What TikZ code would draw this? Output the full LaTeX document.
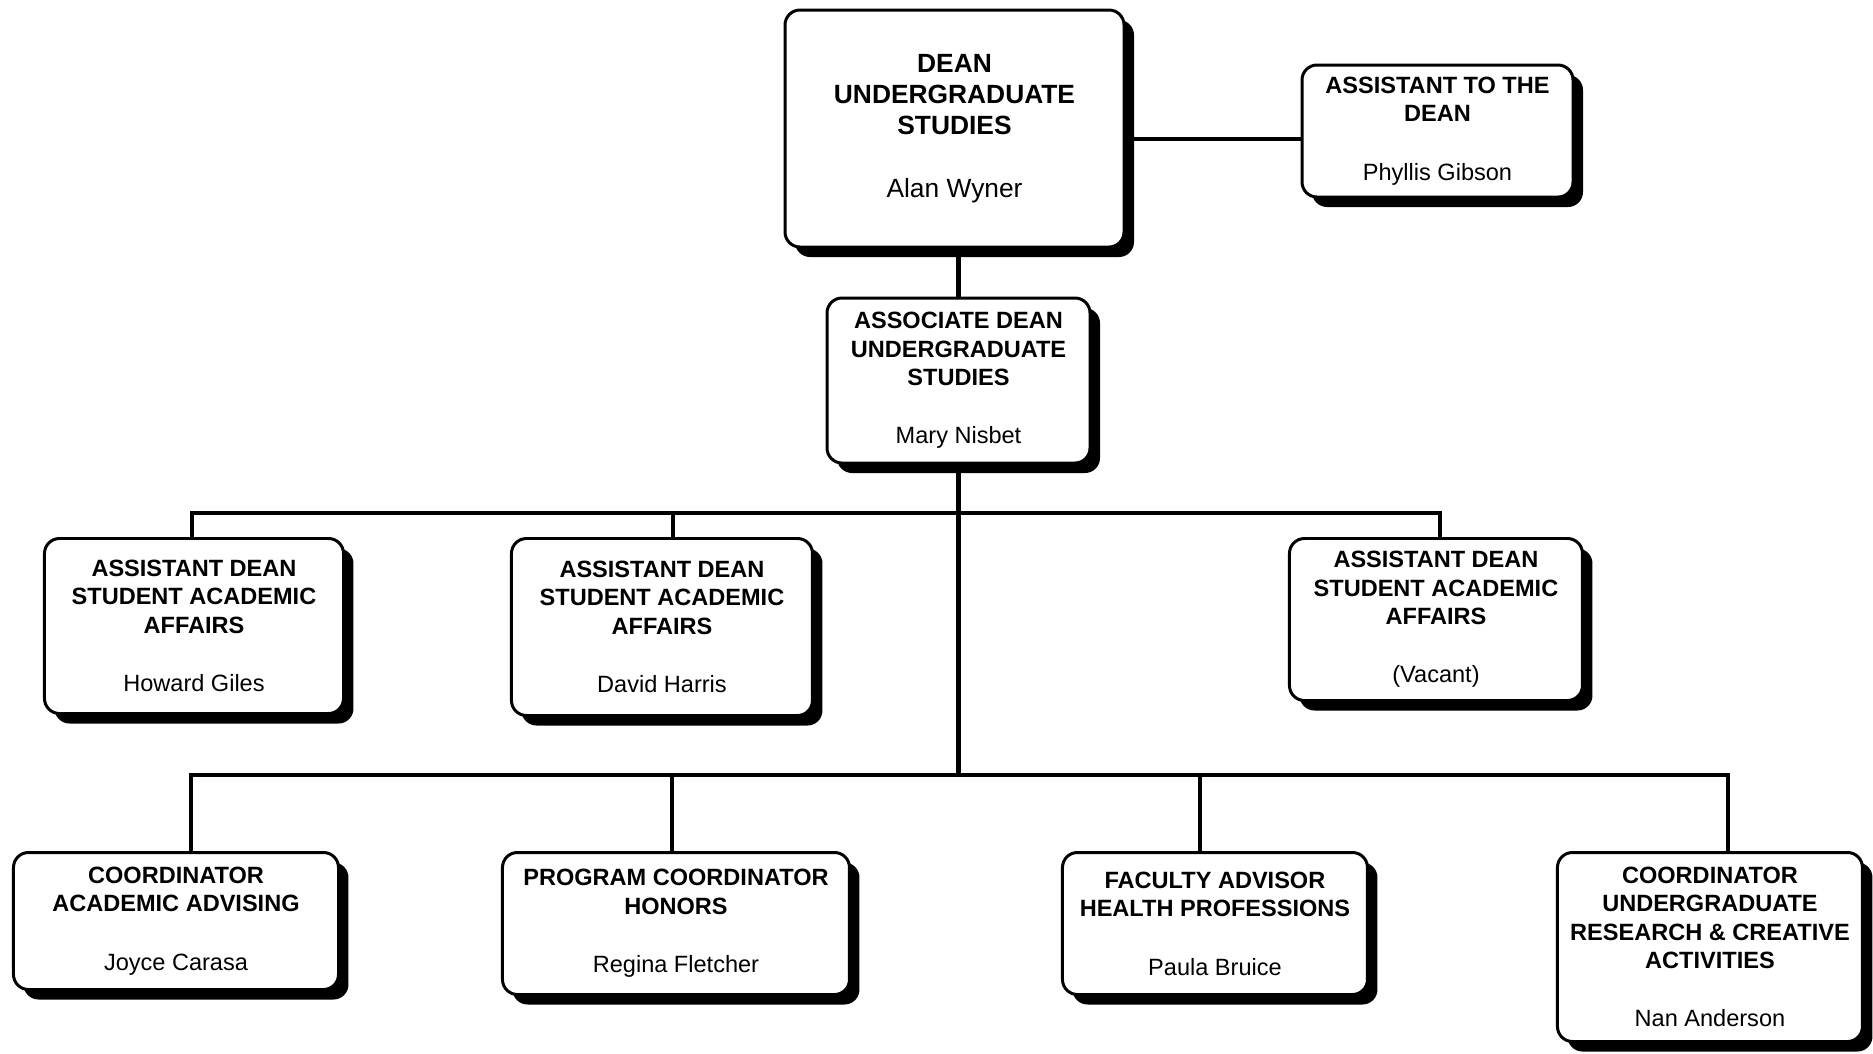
\documentclass[tikz,border=0pt]{standalone}
\usepackage{fontspec}
\setmainfont{Liberation Sans}
\usetikzlibrary{%
  positioning,
  shadows,
}

\begin{document}
\begin{tikzpicture}[
    every text node part/.style={align=center},
    office/.style={
      % The shape:
      rectangle,
      rounded corners=1.5mm,
      inner sep=0pt,
      % The border:
      draw=black,
      line width=0.85pt,
      fill=white,
      % a solid black shadow, down and to the right
      drop shadow={shadow xshift=1mm, shadow yshift=-1mm, fill=black, opacity=1},
      % The text: bold titles, the name follows in \mdseries
      font=\fontsize{6.7}{8.05}\selectfont\bfseries,
    },
    deanbox/.style={
      office,
      font=\fontsize{7.5}{8.8}\selectfont\bfseries,
    },
    link/.style={line width=1.4pt, color=black},
  ]
    \useasboundingbox (0,0) rectangle (18.73,-10.53);

    % top of the chart
    \node[deanbox, minimum width=3.39cm, minimum height=2.37cm] (dean) at (9.545,-1.285)
          {DEAN\\UNDERGRADUATE\\STUDIES\\[9.1pt]\mdseries Alan Wyner};
    \node[office, minimum width=2.71cm, minimum height=1.32cm] (assistant) at (14.375,-1.31)
          {ASSISTANT TO THE\\DEAN\\[8.6pt]\mdseries Phyllis Gibson};
    \node[office, minimum width=2.63cm, minimum height=1.65cm] (associate) at (9.585,-3.805)
          {ASSOCIATE DEAN\\UNDERGRADUATE\\STUDIES\\[8.6pt]\mdseries Mary Nisbet};

    % assistant deans
    \node[office, minimum width=2.99cm, minimum height=1.75cm, anchor=north west] (giles) at (0.43,-5.37)
          {ASSISTANT DEAN\\STUDENT ACADEMIC\\AFFAIRS\\[8.6pt]\mdseries Howard Giles};
    \node[office, minimum width=3.01cm, minimum height=1.77cm] (harris)
          [right=1.65cm of giles.north east, anchor=north west]
          {ASSISTANT DEAN\\STUDENT ACADEMIC\\AFFAIRS\\[8.6pt]\mdseries David Harris};
    \node[office, minimum width=2.93cm, minimum height=1.62cm] (vacant)
          [right=4.74cm of harris.north east, anchor=north west]
          {ASSISTANT DEAN\\STUDENT ACADEMIC\\AFFAIRS\\[8.6pt]\mdseries (Vacant)};

    % coordinators
    \node[office, minimum width=3.25cm, minimum height=1.37cm, anchor=north west] (advising) at (0.12,-8.51)
          {COORDINATOR\\ACADEMIC ADVISING\\[8.6pt]\mdseries Joyce Carasa};
    \node[office, minimum width=3.47cm, minimum height=1.42cm] (honors)
          [right=1.61cm of advising.north east, anchor=north west]
          {PROGRAM COORDINATOR\\HONORS\\[8.6pt]\mdseries Regina Fletcher};
    \node[office, minimum width=3.05cm, minimum height=1.42cm] (health)
          [right=2.10cm of honors.north east, anchor=north west]
          {FACULTY ADVISOR\\HEALTH PROFESSIONS\\[8.6pt]\mdseries Paula Bruice};
    \node[office, minimum width=3.05cm, minimum height=1.89cm] (research)
          [right=1.87cm of health.north east, anchor=north west]
          {COORDINATOR\\UNDERGRADUATE\\RESEARCH \& CREATIVE\\ACTIVITIES\\[8.6pt]\mdseries Nan Anderson};

    % where the lines meet
    \coordinate (tie) at (12.00,-1.39);
    \coordinate (a1) at (1.92,-5.13);
    \coordinate (a2) at (6.73,-5.13);
    \coordinate (a3) at (14.40,-5.13);
    \coordinate (b1) at (1.91,-7.75);
    \coordinate (b2) at (6.72,-7.75);
    \coordinate (b3) at (12.00,-7.75);
    \coordinate (b4) at (17.28,-7.75);

    \draw[link] (tie -| dean.east) -- (tie -| assistant.west);
    \draw[link] (associate.north |- dean.south) -- (associate.north);
    \draw[link] (associate.south) -- (associate.south |- b1);

    \draw[link] (a1 |- giles.north) -- (a1) -- (a3) -- (a3 |- vacant.north);
    \draw[link] (a2) -- (a2 |- harris.north);

    \draw[link] (b1 |- advising.north) -- (b1) -- (b4) -- (b4 |- research.north);
    \draw[link] (b2) -- (b2 |- honors.north);
    \draw[link] (b3) -- (b3 |- health.north);
  \end{tikzpicture}
\end{document}
